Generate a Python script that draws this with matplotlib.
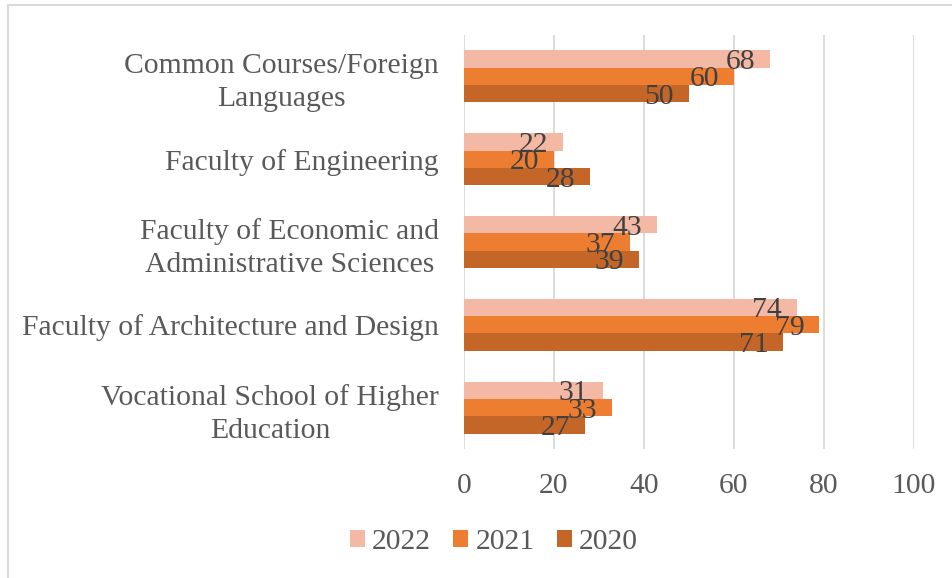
import matplotlib
matplotlib.use("Agg")
import matplotlib.pyplot as plt
import numpy as np
from matplotlib.patches import Rectangle

plt.rcParams['font.family'] = ['Liberation Serif', 'DejaVu Serif']

categories = [
    "Common Courses/Foreign\nLanguages",
    "Faculty of Engineering",
    "Faculty of Economic and\nAdministrative Sciences",
    "Faculty of Architecture and Design",
    "Vocational School of Higher\nEducation",
]
years = ["2022", "2021", "2020"]
values_2022 = [68, 22, 43, 74, 31]
values_2021 = [60, 20, 37, 79, 33]
values_2020 = [50, 28, 39, 71, 27]
series = [values_2022, values_2021, values_2020]
colors = ["#F4B9A5", "#ED7D31", "#C46628"]

FS = 21.3

fig = plt.figure(figsize=(9.53, 5.78), dpi=100)
ax = fig.add_axes([464 / 953, 1 - 449 / 578, 450 / 953, 414 / 578])

n = len(categories)
centers = np.arange(n)[::-1].astype(float)  # first category at top
bar_h = 0.21
offsets = [bar_h, 0.0, -bar_h]

for vals, col, off, yr in zip(series, colors, offsets, years):
    ypos = centers + off
    ax.barh(ypos, vals, height=bar_h, color=col, label=yr, zorder=2)
    for y, v in zip(ypos, vals):
        ax.annotate(str(v), xy=(v, y), xytext=(-15, -3),
                    textcoords='offset pixels', ha='right', va='center',
                    fontsize=FS, color='#404040', zorder=3)

ax.set_xlim(0, 100)
ax.set_ylim(-0.5, n - 0.5)
ax.set_xticks(np.arange(0, 101, 20))
ax.set_yticks(centers)
ax.set_yticklabels(categories, multialignment='center', linespacing=1.35)
ax.tick_params(axis='both', length=0, labelsize=FS, colors='#595959')
ax.tick_params(axis='x', pad=17)
ax.tick_params(axis='y', pad=18)
ax.xaxis.grid(True, color='#D9D9D9', linewidth=1.3, zorder=0)
ax.set_axisbelow(True)
for s in ax.spines.values():
    s.set_visible(False)

handles, labels = ax.get_legend_handles_labels()
leg = fig.legend(handles, labels, loc='center', ncol=3,
                 bbox_to_anchor=(494 / 953, 1 - 542 / 578), frameon=False,
                 fontsize=FS, handlelength=0.5, handleheight=0.5,
                 handletextpad=0.25, columnspacing=0.75)
for t in leg.get_texts():
    t.set_color('#595959')

fig.patches.append(Rectangle((8 / 953, -0.05), 1.1, 1 - 5 / 578 + 0.05,
                             transform=fig.transFigure, fill=False,
                             edgecolor='#D9D9D9', linewidth=1.5))

fig.savefig("out.png", dpi=100)
